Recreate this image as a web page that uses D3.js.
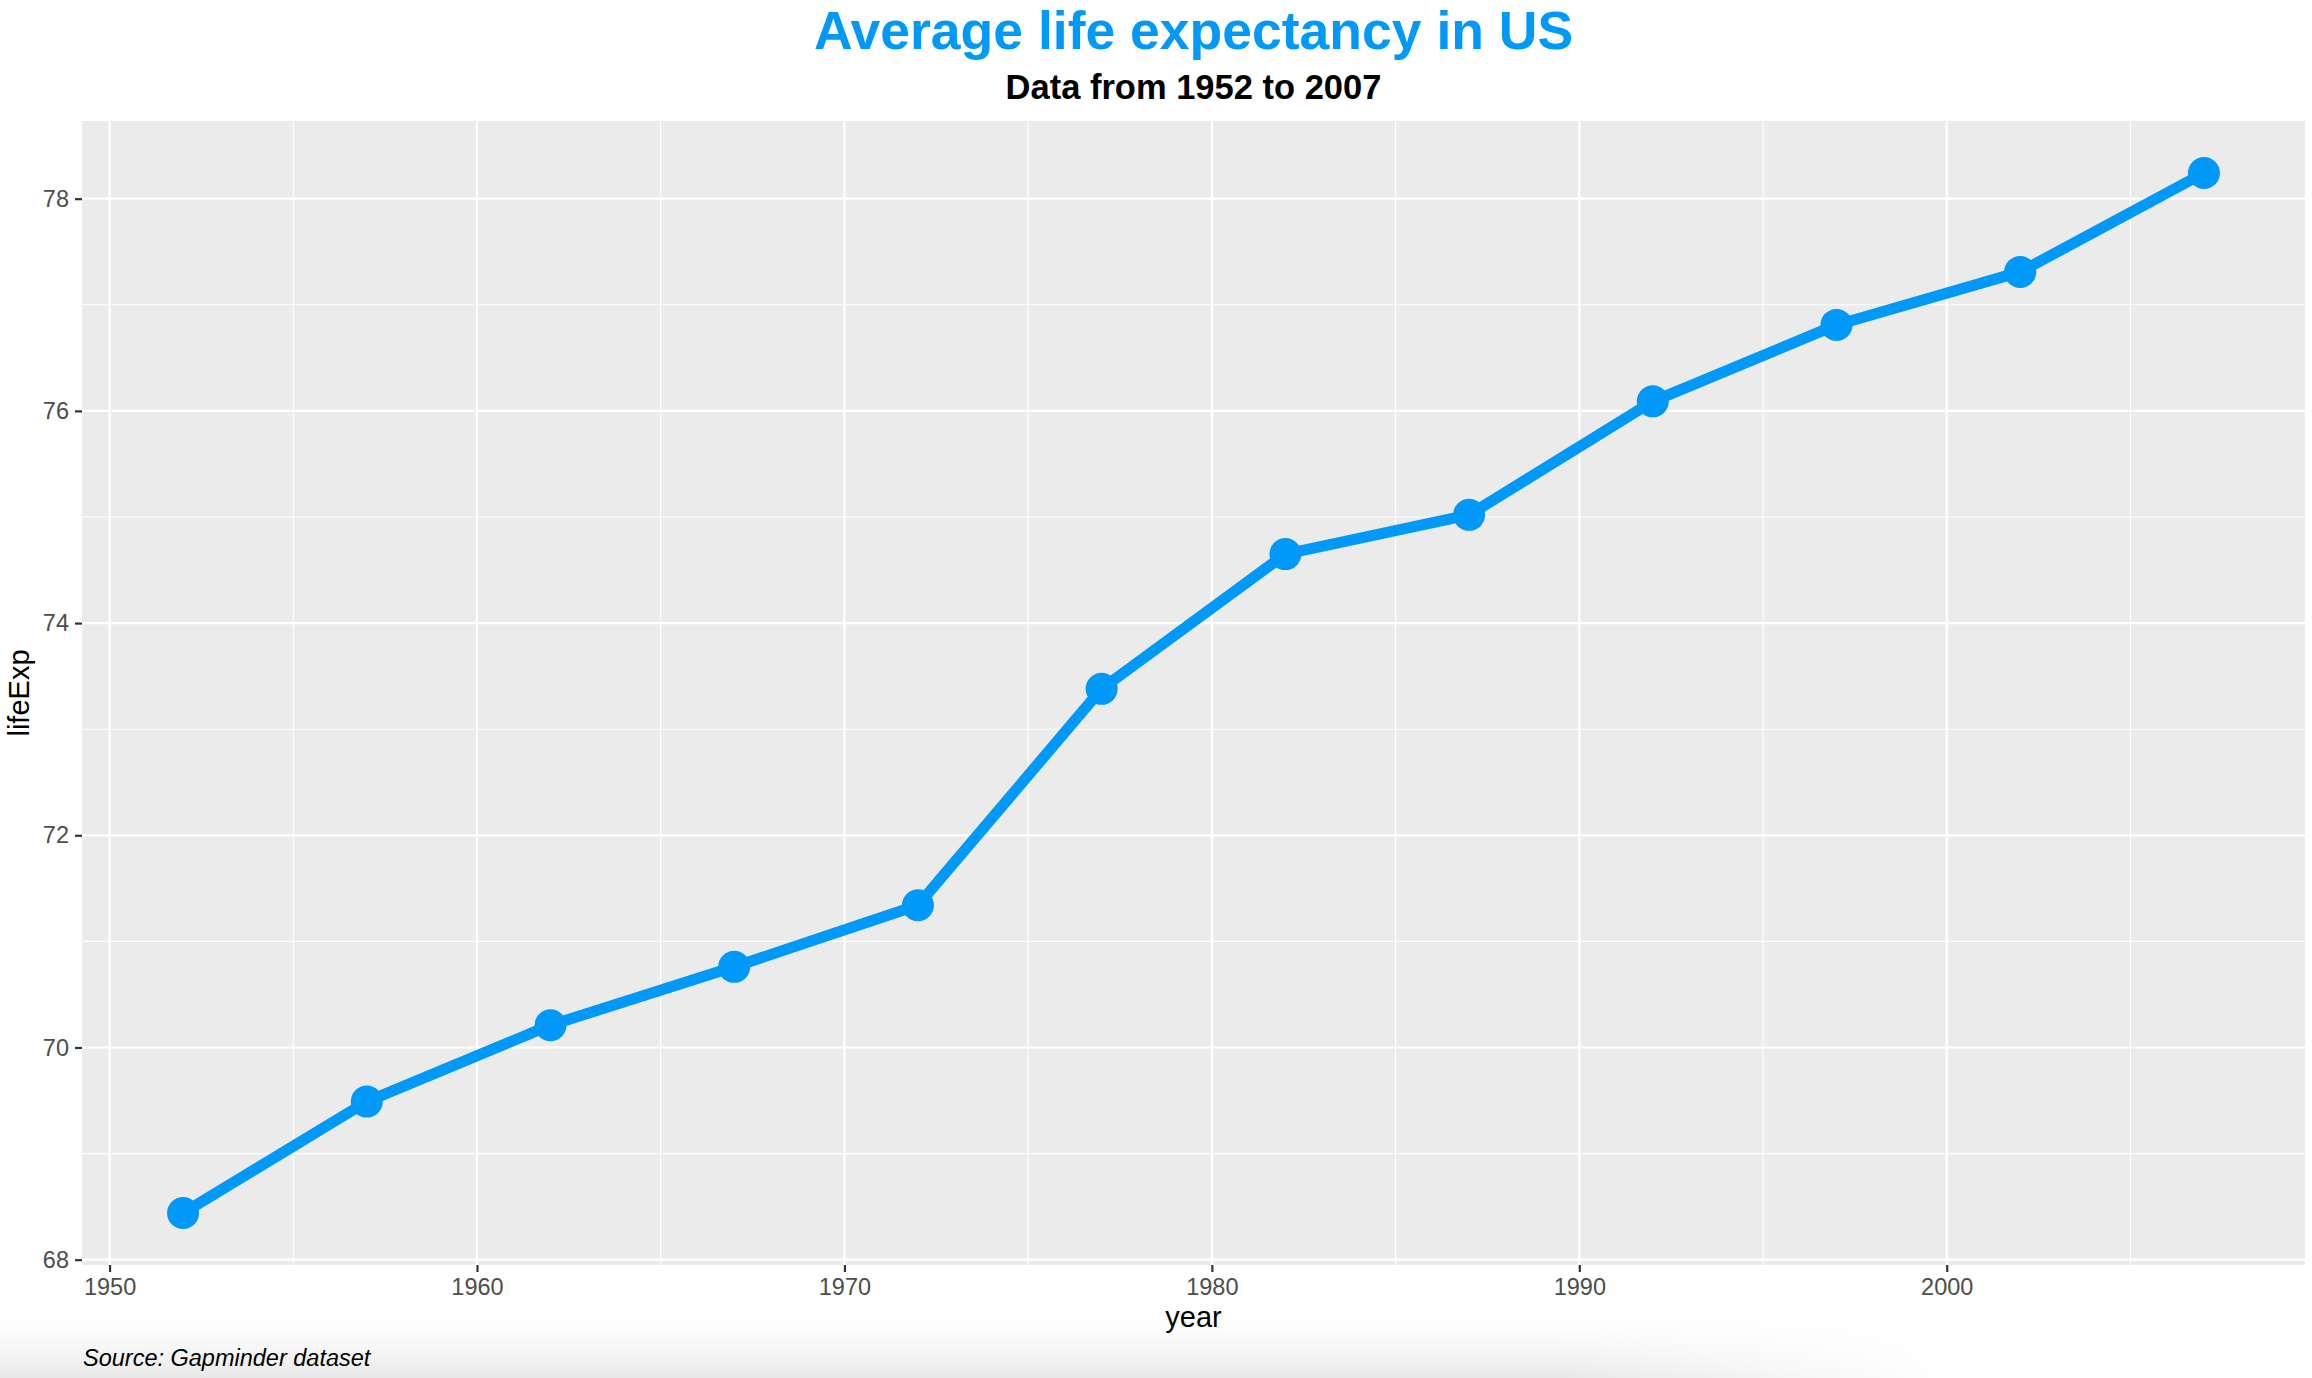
<!DOCTYPE html>
<html>
<head>
<meta charset="utf-8">
<script src="https://cdn.jsdelivr.net/npm/d3@7"></script>
<style>
  html, body { margin: 0; padding: 0; background: #ffffff; }
  svg { display: block; }
  text { font-family: "Liberation Sans", Arial, Helvetica, sans-serif; }
</style>
</head>
<body>
<svg id="chart" width="2312" height="1378"></svg>
<script>
// ---- data ----
const years = [1952, 1957, 1962, 1967, 1972, 1977, 1982, 1987, 1992, 1997, 2002, 2007];
const lifeExp = [68.44, 69.49, 70.21, 70.76, 71.34, 73.38, 74.65, 75.02, 76.09, 76.81, 77.31, 78.242];
const xMajorTicks = [1950, 1960, 1970, 1980, 1990, 2000];
const xMinorTicks = [1955, 1965, 1975, 1985, 1995, 2005];
const yMajorTicks = [68, 70, 72, 74, 76, 78];
const yMinorTicks = [69, 71, 73, 75, 77];
const titleText = "Average life expectancy in US";
const subtitleText = "Data from 1952 to 2007";
const captionText = "Source: Gapminder dataset";
const xTitle = "year";
const yTitle = "lifeExp";

const W = 2312, H = 1378;
const panel = { left: 82, right: 2305, top: 121, bottom: 1265 };
const accent = "#0099f8";

const svg = d3.select("#chart");

// bottom shadow
const defs = svg.append("defs");
const lg = defs.append("linearGradient").attr("id", "shadeV").attr("x1", 0).attr("y1", 0).attr("x2", 0).attr("y2", 1);
lg.append("stop").attr("offset", "0%").attr("stop-color", "#ffffff").attr("stop-opacity", 0);
lg.append("stop").attr("offset", "100%").attr("stop-color", "#e8e8e8").attr("stop-opacity", 1);
const lgH = defs.append("linearGradient").attr("id", "shadeH").attr("x1", 0).attr("y1", 0).attr("x2", 1).attr("y2", 0);
lgH.append("stop").attr("offset", "0%").attr("stop-color", "#fff").attr("stop-opacity", 1);
lgH.append("stop").attr("offset", "80%").attr("stop-color", "#fff").attr("stop-opacity", 1);
lgH.append("stop").attr("offset", "100%").attr("stop-color", "#fff").attr("stop-opacity", 0);
const mask = defs.append("mask").attr("id", "shadeMask");
mask.append("rect").attr("x", 0).attr("y", 1300).attr("width", 1950).attr("height", 78).attr("fill", "url(#shadeH)");
svg.append("rect").attr("x", 0).attr("y", 1300).attr("width", 1950).attr("height", 78)
  .attr("fill", "url(#shadeV)").attr("mask", "url(#shadeMask)");

// scales (ggplot 5% expansion)
const xMin = d3.min(years), xMax = d3.max(years);
const yMin = d3.min(lifeExp), yMax = d3.max(lifeExp);
const xPad = (xMax - xMin) * 0.05, yPad = (yMax - yMin) * 0.05;
const x = d3.scaleLinear().domain([xMin - xPad, xMax + xPad]).range([panel.left, panel.right]);
const y = d3.scaleLinear().domain([yMin - yPad, yMax + yPad]).range([panel.bottom, panel.top]);

// panel background
svg.append("rect")
  .attr("x", panel.left).attr("y", panel.top)
  .attr("width", panel.right - panel.left).attr("height", panel.bottom - panel.top)
  .attr("fill", "#ebebeb");

const grid = svg.append("g");
// minor grid
grid.selectAll("line.xminor").data(xMinorTicks).join("line")
  .attr("x1", d => x(d)).attr("x2", d => x(d)).attr("y1", panel.top).attr("y2", panel.bottom)
  .attr("stroke", "#ffffff").attr("stroke-width", 1.1);
grid.selectAll("line.yminor").data(yMinorTicks).join("line")
  .attr("y1", d => y(d)).attr("y2", d => y(d)).attr("x1", panel.left).attr("x2", panel.right)
  .attr("stroke", "#ffffff").attr("stroke-width", 1.1);
// major grid
grid.selectAll("line.xmajor").data(xMajorTicks).join("line")
  .attr("x1", d => x(d)).attr("x2", d => x(d)).attr("y1", panel.top).attr("y2", panel.bottom)
  .attr("stroke", "#ffffff").attr("stroke-width", 2.2);
grid.selectAll("line.ymajor").data(yMajorTicks).join("line")
  .attr("y1", d => y(d)).attr("y2", d => y(d)).attr("x1", panel.left).attr("x2", panel.right)
  .attr("stroke", "#ffffff").attr("stroke-width", 2.2);

// axes
const xAxis = d3.axisBottom(x).tickValues(xMajorTicks).tickSize(7).tickPadding(6).tickFormat(d3.format("d"));
const gx = svg.append("g").attr("transform", `translate(0,${panel.bottom})`).call(xAxis);
gx.select(".domain").remove();
gx.selectAll(".tick line").attr("stroke", "#333333").attr("stroke-width", 2.2);
gx.selectAll(".tick text").attr("fill", "#4d4d4d").style("font-size", "23.5px")
  .style("font-family", "'Liberation Sans', Arial, sans-serif");

const yAxis = d3.axisLeft(y).tickValues(yMajorTicks).tickSize(7).tickPadding(6).tickFormat(d3.format("d"));
const gy = svg.append("g").attr("transform", `translate(${panel.left},0)`).call(yAxis);
gy.select(".domain").remove();
gy.selectAll(".tick line").attr("stroke", "#333333").attr("stroke-width", 2.2);
gy.selectAll(".tick text").attr("fill", "#4d4d4d").style("font-size", "23.5px")
  .style("font-family", "'Liberation Sans', Arial, sans-serif");

// line and points
const data = years.map((yr, i) => ({ year: yr, value: lifeExp[i] }));
const line = d3.line().x(d => x(d.year)).y(d => y(d.value));
svg.append("path").datum(data)
  .attr("d", line).attr("fill", "none").attr("stroke", accent)
  .attr("stroke-width", 11).attr("stroke-linejoin", "round").attr("stroke-linecap", "butt");
svg.append("g").selectAll("circle").data(data).join("circle")
  .attr("cx", d => x(d.year)).attr("cy", d => y(d.value)).attr("r", 16).attr("fill", accent);

// titles
const cx = (panel.left + panel.right) / 2;
svg.append("text").attr("x", cx).attr("y", 49).attr("text-anchor", "middle")
  .attr("fill", accent).style("font-size", "53.5px").style("font-weight", "bold").text(titleText);
svg.append("text").attr("x", cx).attr("y", 99).attr("text-anchor", "middle")
  .attr("fill", "#000000").style("font-size", "34.5px").style("font-weight", "bold").text(subtitleText);

// axis titles
svg.append("text").attr("x", cx).attr("y", 1327).attr("text-anchor", "middle")
  .attr("fill", "#000000").style("font-size", "29px").text(xTitle);
svg.append("text").attr("transform", `translate(29,${(panel.top + panel.bottom) / 2}) rotate(-90)`)
  .attr("text-anchor", "middle").attr("fill", "#000000").style("font-size", "29px").text(yTitle);

// caption
svg.append("text").attr("x", 83).attr("y", 1366).attr("text-anchor", "start")
  .attr("fill", "#000000").style("font-size", "23.5px").style("font-style", "italic").text(captionText);
</script>
</body>
</html>
